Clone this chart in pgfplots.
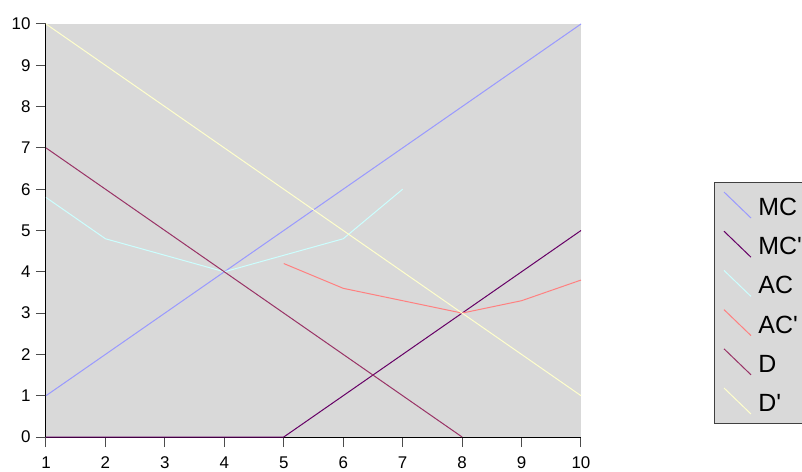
\documentclass[border=0pt]{standalone}
\usepackage{fontspec}
\setmainfont{Liberation Sans}
\usepackage{pgfplots}
\pgfplotsset{compat=1.18}

\definecolor{plotbg}{HTML}{D9D9D9}
\definecolor{cMC}{HTML}{9999FF}
\definecolor{cMCp}{HTML}{660066}
\definecolor{cAC}{HTML}{CCFFFF}
\definecolor{cACp}{HTML}{FF8080}
\definecolor{cD}{HTML}{993366}
\definecolor{cDp}{HTML}{FFFFCC}

\begin{document}
\begin{tikzpicture}
\begin{axis}[
  width=535bp, height=413bp, scale only axis,
  xmin=1, xmax=10, ymin=0, ymax=10,
  xtick={1,...,10}, ytick={0,...,10},
  axis x line*=bottom, axis y line*=left,
  axis line style={-, black, line width=1bp},
  tick align=outside, major tick length=10bp,
  tick style={black!70, line width=1bp},
  axis background/.style={fill=plotbg},
  every tick label/.append style={font=\fontsize{17}{20}\selectfont},
  /pgf/number format/assume math mode=true,
  xticklabel style={yshift=-6bp},
  yticklabel style={xshift=-2bp},
  clip=false,
  every axis plot/.append style={line width=1bp},
  legend image code/.code={\draw[#1] (0bp,15.5bp) -- (27bp,-10.5bp);},
  legend cell align=left,
  legend style={
    at={(rel axis cs:1.2486,0.6174)}, anchor=north west,
    fill=plotbg, draw=black!75, line width=1bp,
    font=\fontsize{25}{30}\selectfont,
    nodes={inner sep=0bp},
    inner xsep=9bp, inner ysep=9bp,
    row sep=12.2bp, column sep=7bp,
  },
]
% marginal cost
\addplot[cMC] coordinates {(1,1) (2,2) (3,3) (4,4) (5,5) (6,6) (7,7) (8,8) (9,9) (10,10)};
\addlegendentry{MC}
% marginal cost after the shift
\addplot[cMCp] coordinates {(1,0) (2,0) (3,0) (4,0) (5,0) (6,1) (7,2) (8,3) (9,4) (10,5)};
\addlegendentry{MC\textquotesingle}
% average cost
\addplot[cAC] coordinates {(1,5.8) (2,4.8) (3,4.4) (4,4.0) (5,4.4) (6,4.8) (7,6.0)};
\addlegendentry{AC}
% average cost after the shift
\addplot[cACp] coordinates {(5,4.2) (6,3.6) (7,3.3) (8,3.0) (9,3.3) (10,3.8)};
\addlegendentry{AC\textquotesingle}
% demand
\addplot[cD] coordinates {(1,7) (2,6) (3,5) (4,4) (5,3) (6,2) (7,1) (8,0)};
\addlegendentry{D}
% shifted demand
\addplot[cDp] coordinates {(1,10) (2,9) (3,8) (4,7) (5,6) (6,5) (7,4) (8,3) (9,2) (10,1)};
\addlegendentry{D\textquotesingle}
\end{axis}
\pgfresetboundingbox
\useasboundingbox (-46bp,-35bp) rectangle (756bp,437bp);
\end{tikzpicture}
\end{document}
